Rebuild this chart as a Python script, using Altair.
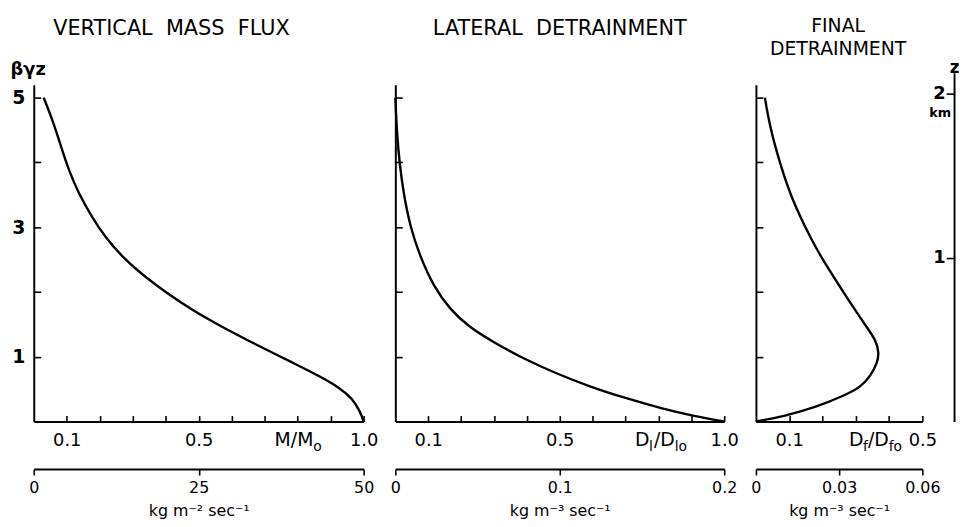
import altair as alt
import pandas as pd

# ---------------- data ----------------
# Vertical mass flux  M/M0  vs  beta*gamma*z
mf_y = [0, 0.15, 0.36, 0.51, 0.69, 0.87, 1.02, 1.255, 1.469, 1.699, 1.969, 2.235, 2.5, 2.847, 3.16, 3.52, 3.88, 4.29, 4.64, 5.0]
mf_x = [1.0, 0.99, 0.965, 0.93, 0.87, 0.80, 0.74, 0.648, 0.568, 0.487, 0.407, 0.337, 0.276, 0.216, 0.176, 0.136, 0.106, 0.08, 0.058, 0.03]

# Lateral detrainment  Dl/Dlo
ld_y = [0, 0.08, 0.2, 0.36, 0.54, 0.74, 0.97, 1.22, 1.45, 1.73, 2.09, 2.55, 3.01, 3.52, 3.98, 4.44, 5.0]
ld_x = [1.0, 0.91, 0.81, 0.70, 0.59, 0.49, 0.39, 0.30, 0.226, 0.166, 0.116, 0.075, 0.045, 0.025, 0.013, 0.005, 0.0]

# Final detrainment  Df/Dfo
fd_y = [0, 0.08, 0.23, 0.40, 0.53, 0.71, 0.91, 1.06, 1.26, 1.44, 1.82, 2.22, 2.63, 3.03, 3.48, 3.94, 4.39, 4.75, 5.0]
fd_x = [0, 0.085, 0.185, 0.265, 0.315, 0.345, 0.365, 0.37, 0.36, 0.335, 0.285, 0.235, 0.185, 0.145, 0.105, 0.075, 0.05, 0.035, 0.027]

# axis tick values / labels
y_ticks = [1, 2, 3, 4, 5]
y_labels = [1, 3, 5]
mf_minor = [0.1, 0.2, 0.3, 0.4, 0.5, 0.6, 0.7, 0.8, 0.9, 1.0]
ld_minor = [0.1, 0.2, 0.3, 0.4, 0.5, 0.6, 0.7, 0.8, 0.9, 1.0]
fd_minor = [0.1, 0.2, 0.3, 0.4, 0.5]
mf_lab = [0.1, 0.5, 1.0]
ld_lab = [0.1, 0.5, 1.0]
fd_lab = [0.1, 0.5]
mf_kg = [0, 25, 50]
ld_kg = [0, 0.1, 0.2]
fd_kg = [0, 0.03, 0.06]
z_km = [1, 2]

FONT = "DejaVu Sans"
H = 340
YMAX = 5.2
SP = "\u00a0 "


def frame(xs, ys):
    return pd.DataFrame({"x": xs, "y": ys, "i": list(range(len(xs)))})


def title_mark(text, x, y, size=21):
    return alt.Chart(pd.DataFrame({"t": [text]})).mark_text(
        align="center", baseline="alphabetic", fontSize=size, font=FONT, color="black"
    ).encode(text="t:N", x=alt.value(x), y=alt.value(y))


def panel(df, W, xmax, minor, labs, kg_vals, kg_title, first, titles,
          parts, qx, extra=None):
    xs = alt.Scale(domain=[0, xmax], nice=False, zero=False)
    ys = alt.Scale(domain=[0, YMAX], nice=False, zero=False)

    yaxis_kw = dict(orient="left", ticks=False, domainWidth=2, grid=False)
    if first:
        yaxis_kw.update(values=y_labels, labels=True, format="d", labelPadding=9,
                        labelFontSize=19, labelFontWeight="bold",
                        title="βγz", titleAngle=0, titleX=-24, titleY=-15,
                        titleAlign="left", titleBaseline="middle",
                        titleFontSize=18, titleFontWeight="bold")
    else:
        yaxis_kw.update(labels=False, title=None)

    curve = alt.Chart(df).mark_line(color="black", strokeWidth=2.4,
                                    interpolate="basis").encode(
        x=alt.X("x:Q", scale=xs,
                axis=alt.Axis(orient="bottom", values=labs, format=".1f", ticks=False,
                              labelPadding=10, labelFontSize=18, domainWidth=2,
                              labelFlush=False, labelOverlap=False, title=None)),
        y=alt.Y("y:Q", scale=ys, axis=alt.Axis(**yaxis_kw)),
        order="i:Q",
    )

    inward = alt.Chart(df).mark_line(opacity=0).encode(
        x=alt.X("x:Q", scale=xs,
                axis=alt.Axis(orient="top", offset=-H, values=minor, labels=False,
                              domain=False, tickSize=6, tickWidth=1.6, title=None)),
        y=alt.Y("y:Q", scale=ys,
                axis=alt.Axis(orient="right", offset=-W, values=y_ticks, labels=False,
                              domain=False, tickSize=7, tickWidth=1.6, title=None)),
        order="i:Q",
    )

    kg = alt.Chart(pd.DataFrame({"kg": kg_vals})).mark_point(opacity=0).encode(
        x=alt.X("kg:Q", scale=alt.Scale(domain=[kg_vals[0], kg_vals[-1]], nice=False, zero=False),
                axis=alt.Axis(orient="bottom", offset=48, values=kg_vals, format=".3~g",
                              tickSize=6, tickWidth=1.6, labelPadding=5, labelFontSize=16,
                              domainWidth=2, labelFlush=False, labelOverlap=False,
                              title=kg_title, titleFontSize=16, titleFontWeight="normal",
                              titlePadding=7)),
    )

    layers = [curve, inward, kg]
    qdf = pd.DataFrame({"x": [qx]})
    for txt, dx, size, dy in parts:
        layers.append(
            alt.Chart(qdf).mark_text(text=txt, align="left", baseline="middle",
                                     fontSize=size, font=FONT, dx=dx, dy=dy,
                                     color="black").encode(
                x=alt.X("x:Q", scale=xs, axis=None),
                y=alt.value(H + 19),
            )
        )
    for t in titles:
        layers.append(title_mark(*t))
    if extra:
        layers.extend(extra)

    return alt.layer(*layers).resolve_scale(x="independent", y="independent").properties(
        width=W, height=H,
    )


p1 = panel(frame(mf_x, mf_y), 333, 1.0, mf_minor, mf_lab, mf_kg, "kg m⁻² sec⁻¹", True,
           [("VERTICAL" + SP + "MASS" + SP + "FLUX", 139, -50)],
           [("M/M", 0, 19, 0), ("o", 39, 14, 7)], 0.73)

p2 = panel(frame(ld_x, ld_y), 332, 1.0, ld_minor, ld_lab, ld_kg, "kg m⁻³ sec⁻¹", False,
           [("LATERAL" + SP + "DETRAINMENT", 166, -50)],
           [("D", 0, 19, 0), ("l", 14, 14, 7), ("/D", 19, 19, 0), ("lo", 40, 14, 7)], 0.729)

# right-hand height scale in km for the third panel
zs = alt.Scale(domain=[0, 2.127], range=[H, -12], nice=False, zero=False)
zaxis = alt.Chart(pd.DataFrame({"z": z_km})).mark_point(opacity=0).encode(
    y=alt.Y("z:Q", scale=zs,
            axis=alt.Axis(orient="left", offset=-200, values=z_km, format="d", tickSize=8,
                          tickWidth=1.6, labelPadding=1, labelFontSize=18,
                          labelFontWeight="bold", domainWidth=2,
                          title="z", titleAngle=0, titleX=0, titleY=-17,
                          titleAlign="center", titleBaseline="middle",
                          titleFontSize=17, titleFontWeight="bold")),
)
km = alt.Chart(pd.DataFrame({"z": [z_km[-1]]})).mark_text(
    text="km", fontSize=13, fontWeight="bold", font=FONT, dy=20, color="black").encode(
    y=alt.Y("z:Q", scale=zs, axis=None),
    x=alt.value(186),
)

p3 = panel(frame(fd_x, fd_y), 168, 0.5, fd_minor, fd_lab, fd_kg, "kg m⁻³ sec⁻¹", False,
           [("FINAL", 83, -53, 19), ("DETRAINMENT", 83, -30, 19)],
           [("D", 0, 19, 0), ("f", 14, 14, 7), ("/D", 19, 19, 0), ("fo", 40, 14, 7)], 0.28,
           extra=[zaxis, km])

chart = alt.hconcat(p1, p2, p3, spacing=32, bounds="flush").properties(
    padding={"left": 2, "top": 7, "right": 0, "bottom": 0}
).configure_view(stroke=None).configure_axis(
    grid=False, domainColor="black", tickColor="black", labelColor="black",
    titleColor="black", labelFont=FONT, titleFont=FONT
)

chart.save("out.html", embed_options={"renderer": "svg", "actions": False})
